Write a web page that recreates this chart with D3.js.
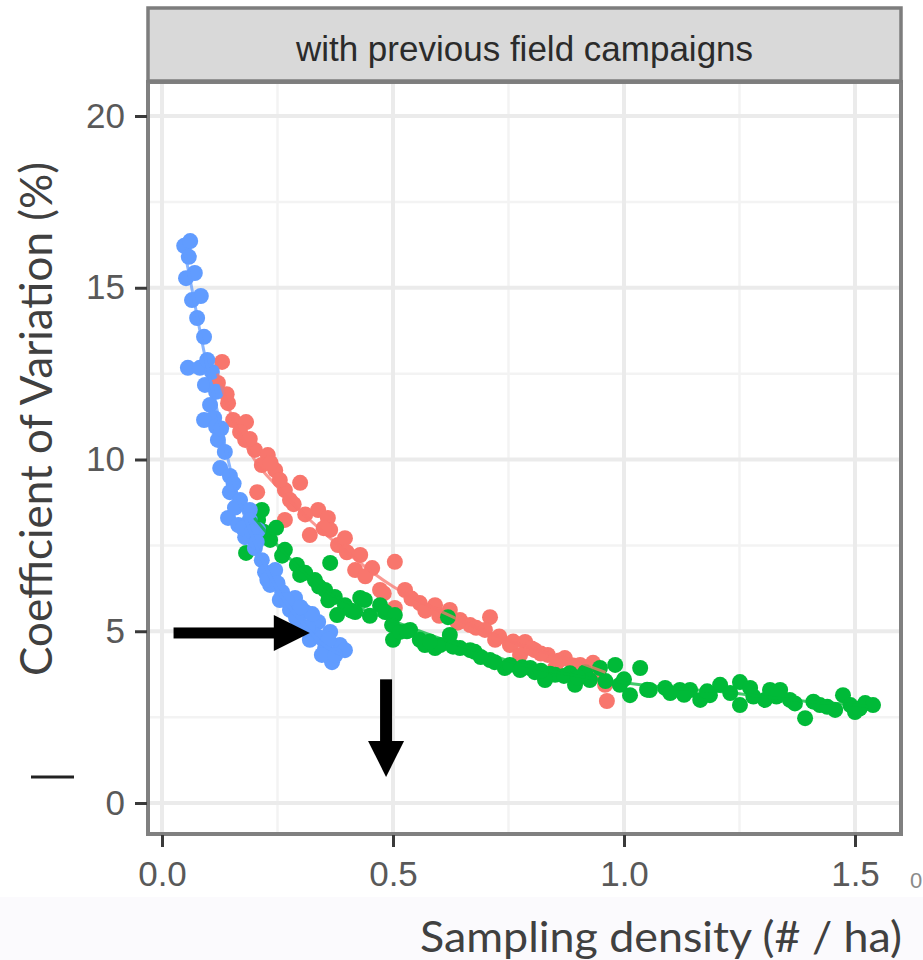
<!DOCTYPE html>
<html><head><meta charset="utf-8">
<script src="https://cdn.jsdelivr.net/npm/d3@7"></script>
<style>html,body{margin:0;padding:0;background:#fff;} svg{display:block}</style>
</head><body>
<svg id="chart" width="923" height="960"></svg>
<script>
// ---------- data ----------
const facetLabel = "with previous field campaigns";
const xTitle = "Sampling density (# / ha)";
const yTitle = "Coefficient of Variation (%)";
const xTicks = [0, 0.5, 1.0, 1.5];
const xTickLabels = ["0.0", "0.5", "1.0", "1.5"];
const yTicks = [0, 5, 10, 15, 20];
const yTickLabels = ["0", "5", "10", "15", "20"];
const xMinor = [0.25, 0.75, 1.25];
const yMinor = [2.5, 7.5, 12.5, 17.5];
const seriesColors = ["#F8766D", "#00BA38", "#619CFF"];

const redX = [0.130,0.121,0.143,0.154,0.182,0.180,0.201,0.229,0.245,0.206,0.266,0.299,0.266,0.338,0.359,0.364,0.320,0.381,0.396,0.418,0.455,0.504,0.472,0.526,0.504,0.558,0.591,0.623,0.710,0.667,0.699,0.721,0.753,0.786,0.807,0.835,0.872,0.851,0.905,0.933,0.959,0.963,0.429,0.216,0.277,0.169,0.645,0.775,
  0.14,0.19,0.235,0.255,0.285,0.31,0.35,0.40,0.44,0.48,0.54,0.57,0.60,0.64,0.68,0.73,0.76,0.80,0.82,0.86,0.89,0.92,0.94];
const redY = [12.84,12.23,11.64,11.15,11.09,10.57,10.28,10.13,9.69,9.05,9.11,9.32,8.24,8.53,8.30,7.95,7.80,7.51,7.71,6.78,6.84,7.02,6.20,6.20,5.68,5.82,5.76,5.62,5.41,5.18,5.04,4.75,4.60,4.69,4.45,4.31,4.22,3.93,4.02,4.08,3.44,2.97,7.22,9.84,8.82,10.80,5.33,4.31,
  11.9,10.6,9.9,9.4,8.7,8.4,8.0,7.3,6.6,6.1,5.95,5.6,5.45,5.25,5.1,4.85,4.7,4.5,4.35,4.15,4.0,3.9,3.75];

const greenX = [0.208,0.216,0.247,0.182,0.234,0.266,0.292,0.331,0.364,0.374,0.353,0.396,0.429,0.379,0.439,0.472,0.483,0.504,0.498,0.500,0.515,0.537,0.558,0.569,0.591,0.602,0.619,0.623,0.645,0.667,0.677,0.710,0.742,0.753,0.775,0.797,0.807,0.840,0.851,0.883,0.916,0.926,0.948,0.981,0.991,1.013,1.035,1.056,1.089,1.121,1.143,1.165,1.208,1.251,1.273,1.251,1.305,1.338,1.359,1.392,1.424,1.457,1.474,1.500,1.522,1.539,0.299,0.418,1.186,1.316,0.829,0.894,
  0.22,0.26,0.31,0.34,0.36,0.41,0.45,0.53,0.58,0.63,0.69,0.72,0.78,0.82,0.87,0.90,0.96,1.00,1.05,1.10,1.13,1.18,1.23,1.28,1.33,1.37,1.41,1.44,1.49,1.51];
const greenY = [8.24,8.53,8.01,7.28,7.66,7.37,6.93,6.49,6.99,6.00,6.20,5.76,5.97,5.47,5.91,5.76,5.56,5.47,5.18,4.75,4.98,5.04,4.75,4.60,4.51,4.60,5.41,4.89,4.51,4.45,4.40,4.16,3.93,4.02,3.87,3.93,3.81,3.76,3.73,3.78,3.81,3.58,3.93,4.02,3.44,3.14,3.93,3.29,3.35,3.29,3.29,3.00,3.44,3.52,3.35,2.85,3.00,3.29,3.00,2.47,2.85,2.71,3.14,2.65,2.91,2.85,6.64,5.56,3.14,3.29,3.58,3.44,
  7.9,7.2,6.7,6.3,5.9,5.6,5.45,5.0,4.7,4.55,4.25,4.1,3.95,3.85,3.7,3.65,3.55,3.6,3.3,3.2,3.15,3.25,3.2,3.1,3.1,2.9,2.95,2.8,2.85,2.75];

const blueX = [0.048,0.061,0.052,0.071,0.065,0.084,0.076,0.091,0.056,0.082,0.108,0.093,0.117,0.104,0.113,0.091,0.117,0.121,0.136,0.126,0.147,0.147,0.169,0.190,0.143,0.165,0.180,0.201,0.216,0.223,0.245,0.234,0.260,0.288,0.277,0.310,0.299,0.338,0.331,0.364,0.353,0.385,0.368,0.346,0.396,0.190,0.208,0.255,0.320,
  0.058,0.098,0.128,0.155,0.158,0.175,0.195,0.205,0.228,0.250,0.270,0.290,0.315,0.325,0.345,0.375,0.360,0.300];
const blueY = [16.22,16.36,15.28,15.43,14.64,14.76,14.12,13.57,12.67,12.67,12.55,12.17,11.97,11.59,11.21,11.15,10.95,10.57,10.22,9.75,9.52,9.05,8.82,8.53,8.30,8.09,7.74,7.42,7.07,6.72,6.78,6.35,6.14,5.97,5.62,5.56,5.18,5.27,4.89,4.98,4.51,4.60,4.10,4.31,4.45,8.24,7.95,5.91,4.75,
  15.9,12.9,10.9,9.3,8.6,8.0,7.9,7.6,6.5,6.4,5.9,5.4,5.1,5.5,4.8,4.3,4.75,5.7];

// fitted (smoothed) curves
const redFitX = [0.12,0.15,0.20,0.25,0.30,0.40,0.50,0.60,0.70,0.80,0.90,0.96];
const redFitY = [12.5,11.3,10.0,9.2,8.5,7.3,6.3,5.6,5.0,4.5,4.1,3.8];
const greenFitX = [0.20,0.25,0.30,0.35,0.40,0.50,0.60,0.70,0.80,0.90,1.00,1.10,1.20,1.30,1.40,1.50,1.53];
const greenFitY = [8.3,7.5,6.8,6.2,5.85,5.3,4.8,4.35,3.95,3.7,3.5,3.35,3.25,3.1,2.95,2.85,2.8];
const blueFitX = [0.05,0.07,0.09,0.11,0.13,0.15,0.18,0.21,0.25,0.30,0.35,0.39];
const blueFitY = [16.0,14.6,13.2,12.0,10.8,9.6,8.3,7.3,6.2,5.3,4.6,4.3];

// arrow annotations (data units): [x1, y1, x2, y2]
const arrowH = [0.025, 4.95, 0.32, 4.95];
const arrowV = [0.485, 3.6, 0.485, 0.76];

// ---------- drawing ----------
const svg = d3.select("#chart");
const panel = {left: 148, right: 901, top: 82, bottom: 834};
const x = d3.scaleLinear().domain([0, 1.5]).range([162, 855]);
const y = d3.scaleLinear().domain([0, 20]).range([803, 116]);

svg.append("rect").attr("x", 0).attr("y", 0).attr("width", 923).attr("height", 960).attr("fill", "#ffffff");
svg.append("rect").attr("x", 0).attr("y", 897).attr("width", 923).attr("height", 63).attr("fill", "#fbfafd");

svg.append("defs").append("clipPath").attr("id", "pclip")
  .append("rect").attr("x", panel.left).attr("y", panel.top)
  .attr("width", panel.right - panel.left).attr("height", panel.bottom - panel.top);

svg.append("rect").attr("x", panel.left).attr("y", panel.top)
  .attr("width", panel.right - panel.left).attr("height", panel.bottom - panel.top).attr("fill", "#fff");

const grid = svg.append("g");
grid.selectAll(".vmin").data(xMinor).enter().append("line")
  .attr("x1", d => x(d)).attr("x2", d => x(d)).attr("y1", panel.top).attr("y2", panel.bottom)
  .attr("stroke", "#f3f3f3").attr("stroke-width", 2.5);
grid.selectAll(".hmin").data(yMinor).enter().append("line")
  .attr("y1", d => y(d)).attr("y2", d => y(d)).attr("x1", panel.left).attr("x2", panel.right)
  .attr("stroke", "#f3f3f3").attr("stroke-width", 2.5);
grid.selectAll(".vmaj").data(xTicks).enter().append("line")
  .attr("x1", d => x(d)).attr("x2", d => x(d)).attr("y1", panel.top).attr("y2", panel.bottom)
  .attr("stroke", "#ebebeb").attr("stroke-width", 4);
grid.selectAll(".hmaj").data(yTicks).enter().append("line")
  .attr("y1", d => y(d)).attr("y2", d => y(d)).attr("x1", panel.left).attr("x2", panel.right)
  .attr("stroke", "#ebebeb").attr("stroke-width", 4);

const series = [
  {xs: redX, ys: redY, fx: redFitX, fy: redFitY, color: seriesColors[0]},
  {xs: greenX, ys: greenY, fx: greenFitX, fy: greenFitY, color: seriesColors[1]},
  {xs: blueX, ys: blueY, fx: blueFitX, fy: blueFitY, color: seriesColors[2]}
];

const plot = svg.append("g").attr("clip-path", "url(#pclip)");
series.forEach(s => {
  const pts = s.xs.map((v, i) => [v, s.ys[i]]);
  plot.append("g").selectAll("circle").data(pts).enter().append("circle")
    .attr("cx", d => x(d[0])).attr("cy", d => y(d[1])).attr("r", 8)
    .attr("fill", s.color);
});
const line = d3.line().x(d => x(d[0])).y(d => y(d[1])).curve(d3.curveMonotoneX);
series.forEach(s => {
  const pts = s.fx.map((v, i) => [v, s.fy[i]]);
  plot.append("path").datum(pts).attr("d", line).attr("fill", "none")
    .attr("stroke", s.color).attr("stroke-width", 3).attr("opacity", 0.75);
});

svg.append("rect").attr("x", panel.left).attr("y", panel.top)
  .attr("width", panel.right - panel.left).attr("height", panel.bottom - panel.top)
  .attr("fill", "none").attr("stroke", "#808080").attr("stroke-width", 4);

svg.append("rect").attr("x", panel.left).attr("y", 8)
  .attr("width", panel.right - panel.left).attr("height", 73)
  .attr("fill", "#d9d9d9").attr("stroke", "#7d7d7d").attr("stroke-width", 3.5);
svg.append("text").attr("x", (panel.left + panel.right) / 2).attr("y", 61)
  .attr("text-anchor", "middle").attr("font-family", "Liberation Sans, Arial, sans-serif")
  .attr("font-size", 35).attr("fill", "#2b2b2b").text(facetLabel);

const xAxis = d3.axisBottom(x).tickValues(xTicks).tickFormat((d, i) => xTickLabels[i]).tickSize(12).tickPadding(14);
const gx = svg.append("g").attr("transform", `translate(0,${panel.bottom + 1})`).call(xAxis);
const yAxis = d3.axisLeft(y).tickValues(yTicks).tickFormat((d, i) => yTickLabels[i]).tickSize(12).tickPadding(10);
const gy = svg.append("g").attr("transform", `translate(${panel.left - 1},0)`).call(yAxis);
[gx, gy].forEach(g => {
  g.select(".domain").remove();
  g.selectAll(".tick line").attr("stroke", "#3a3a3a").attr("stroke-width", 3);
  g.selectAll(".tick text").attr("font-family", "Liberation Sans, Arial, sans-serif")
    .attr("font-size", 35).attr("fill", "#595959");
});

// partial label of the neighbouring facet at the right edge
svg.append("text").attr("x", 910).attr("y", 888).attr("font-family", "Liberation Sans, Arial, sans-serif")
  .attr("font-size", 22).attr("fill", "#8a8a8a").text("0");

svg.append("text").attr("x", 420).attr("y", 952)
  .attr("font-family", "Lato, 'Open Sans', sans-serif").attr("font-size", 42).attr("fill", "#404040")
  .attr("textLength", 482).attr("lengthAdjust", "spacingAndGlyphs").text(xTitle);
svg.append("text").attr("transform", "translate(52,676) rotate(-90)")
  .attr("font-family", "Lato, 'Open Sans', sans-serif").attr("font-size", 44).attr("fill", "#404040")
  .attr("textLength", 514).attr("lengthAdjust", "spacingAndGlyphs").text(yTitle);

svg.append("line").attr("x1", 31).attr("x2", 74).attr("y1", 777).attr("y2", 777)
  .attr("stroke", "#222").attr("stroke-width", 3);

function arrow(a, horizontal) {
  const x1 = x(a[0]), y1 = y(a[1]), x2 = x(a[2]), y2 = y(a[3]);
  const g = svg.append("g");
  if (horizontal) {
    g.append("rect").attr("x", x1).attr("y", y1 - 5.5).attr("width", x2 - x1 - 34).attr("height", 11).attr("fill", "#000");
    g.append("path").attr("d", `M${x2 - 36},${y1 - 18} L${x2},${y1} L${x2 - 36},${y1 + 18} Z`).attr("fill", "#000");
  } else {
    g.append("rect").attr("x", x1 - 6).attr("y", y1).attr("width", 12).attr("height", y2 - y1 - 34).attr("fill", "#000");
    g.append("path").attr("d", `M${x1 - 18},${y2 - 36} L${x1 + 18},${y2 - 36} L${x1},${y2} Z`).attr("fill", "#000");
  }
}
arrow(arrowH, true);
arrow(arrowV, false);
</script>
</body></html>
